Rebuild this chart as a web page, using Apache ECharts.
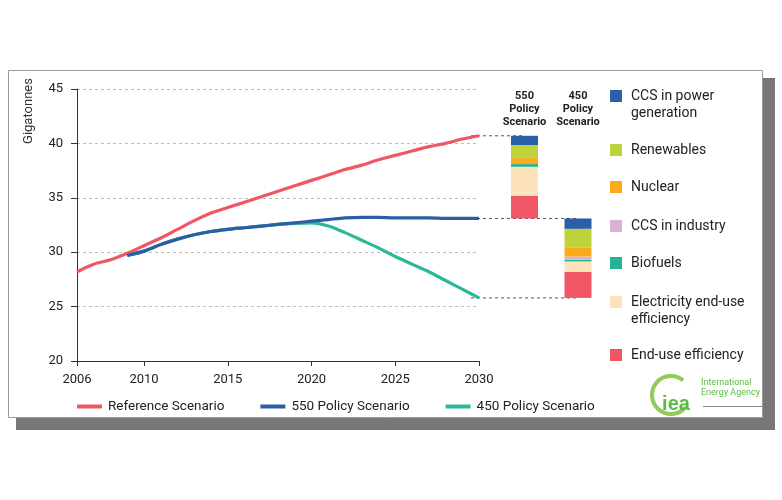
<!DOCTYPE html>
<html>
<head>
<meta charset="utf-8">
<script src="https://cdn.jsdelivr.net/npm/echarts@6/dist/echarts.min.js"></script>
<style>html,body{margin:0;padding:0;background:#fff}#c{width:782px;height:500px}</style>
</head>
<body>
<div id="c"></div>
<script>
// ---------- data ----------
const years = [2006,2007,2008,2009,2010,2011,2012,2013,2014,2015,2016,2017,2018,2019,2020,2021,2022,2023,2024,2025,2026,2027,2028,2029,2030];
const xTickYears = [2006,2010,2015,2020,2025,2030];
const referenceScenario = [28.2,28.9,29.3,29.9,30.6,31.3,32.1,32.9,33.6,34.1,34.6,35.1,35.6,36.1,36.6,37.1,37.6,38.0,38.5,38.9,39.3,39.7,40.0,40.4,40.7];
const policy550 = [null,null,null,29.7,30.1,30.7,31.2,31.6,31.9,32.1,32.25,32.4,32.55,32.7,32.85,33.0,33.15,33.2,33.2,33.15,33.15,33.15,33.1,33.1,33.1];
const policy450 = [null,null,null,29.7,30.1,30.7,31.2,31.6,31.9,32.1,32.25,32.4,32.55,32.65,32.7,32.4,31.8,31.1,30.4,29.6,28.9,28.2,27.4,26.6,25.8];
const lineNames = ['Reference Scenario','550 Policy Scenario','450 Policy Scenario'];
const scenarioLabels = ['550\nPolicy\nScenario','450\nPolicy\nScenario'];
// stacked abatement, bottom -> top
const components = ['End-use efficiency','Electricity end-use efficiency','Biofuels','CCS in industry','Nuclear','Renewables','CCS in power generation'];
const componentLabels = ['End-use efficiency','Electricity end-use\nefficiency','Biofuels','CCS in industry','Nuclear','Renewables','CCS in power\ngeneration'];
const abatement550 = [2.1,2.65,0.25,0,0.55,1.2,0.85];
const abatement450 = [2.4,0.95,0.17,0.28,0.8,1.75,0.95];
const yMin = 20, yMax = 45, yStep = 5;

// ---------- styles ----------
const FONT = '"Liberation Sans Narrow","Roboto","Noto Sans",sans-serif';
const lineColors = ['#ee5864','#2b5ea5','#2ab899'];
const componentColors = ['#ef5766','#fde3bb','#26b594','#d8b3d5','#faaa1b','#bcd43a','#2b5fa8'];
const legendCenters = [355,302,263,226,187,150,96]; // pixel layout of right legend (same order as components)

const chart = echarts.init(document.getElementById('c'), null, {renderer:'canvas'});

const last = a => a[a.length-1];
const endRef = last(referenceScenario), end550 = last(policy550), end450 = last(policy450);
// side panel category axis: gap slot, 550 bar, 450 bar, gap slot
const sideCats = [''].concat(scenarioLabels).concat(['']);

const series = [];
// dashed connectors from 2030 end points to the bars (grid 2)
[[endRef,endRef,null,null],[end550,end550,end550,null],[end450,end450,end450,null]].forEach(function(d, i){
  series.push({
    name: 'conn'+i, type:'line', xAxisIndex:1, yAxisIndex:1, z:1, silent:true,
    symbol:'none', data:d,
    lineStyle:{color:'#555', width:1, type:[3,3]}
  });
});
// line series (grid 1)
[referenceScenario, policy450, policy550].forEach(function(d, k){
  const idx = [0,2,1][k];
  series.push({
    name: lineNames[idx], type:'line', xAxisIndex:0, yAxisIndex:0,
    data: d, symbol:'none', smooth:0.3, z: 5+k,
    lineStyle:{color: lineColors[idx], width:3.2}, itemStyle:{color: lineColors[idx]}
  });
});
// bars (grid 2)
series.push({
  name:'base', type:'bar', xAxisIndex:1, yAxisIndex:1, stack:'a', barWidth:27, silent:true,
  itemStyle:{color:'rgba(0,0,0,0)'}, data:[null,end550,end450,null], z:3
});
components.forEach(function(c, i){
  series.push({
    name:c, type:'bar', xAxisIndex:1, yAxisIndex:1, stack:'a', barWidth:27, z:3,
    itemStyle:{color: componentColors[i]},
    data:[null, abatement550[i], abatement450[i], null]
  });
});

const legends = [{
  data: lineNames, left:77, top:398, orient:'horizontal', itemGap:36, padding:0,
  icon:'rect', itemWidth:25, itemHeight:4, selectedMode:false,
  textStyle:{fontFamily:FONT, fontSize:13.5, color:'#222', padding:[0,0,0,1], lineHeight:17}
}];
components.forEach(function(c, i){
  const two = componentLabels[i].indexOf('\n') >= 0;
  legends.push({
    data:[c], left:610, top: legendCenters[i] - (two ? 25.5 : 8.5), orient:'vertical', padding:0,
    icon:'rect', itemWidth:12, itemHeight:12, selectedMode:false,
    // two-line labels: a blank leading line keeps the first text line level with the swatch
    formatter: function(){ return two ? ' \n' + componentLabels[i] : componentLabels[i]; },
    textStyle:{fontFamily:FONT, fontSize:14, color:'#222', lineHeight:17, padding:[0,0,0,4]}
  });
});

chart.setOption({
  animation:false,
  backgroundColor:'#fff',
  graphic:[
    {type:'rect', z:-20, shape:{x:16,y:78,width:759,height:352}, style:{fill:'#777'}},
    {type:'rect', z:-19, shape:{x:8.5,y:70.5,width:754,height:347}, style:{fill:'#fff', stroke:'#9a9a9a', lineWidth:1}},
    {type:'text', z:10, x:29, y:111, rotation:Math.PI/2, style:{text:'Gigatonnes', font:'13px '+FONT, fill:'#333', align:'center', verticalAlign:'middle'}},
    {type:'arc', z:10, shape:{cx:671, cy:395, r:19, startAngle:-Math.PI*0.28, endAngle:Math.PI*0.22, clockwise:false}, style:{stroke:'#8fcc5a', lineWidth:4, fill:null}},
    {type:'text', z:10, x:676, y:404, style:{text:'iea', font:'bold 20px "Liberation Sans",sans-serif', fill:'#5cb848', align:'center', verticalAlign:'middle'}},
    {type:'text', z:10, x:701, y:388, style:{text:'International\nEnergy Agency', font:'9px '+FONT, fill:'#5fbb45', lineHeight:10, verticalAlign:'middle'}},
    {type:'line', z:10, shape:{x1:703,y1:406.5,x2:762,y2:406.5}, style:{stroke:'#888', lineWidth:1}}
  ],
  grid:[
    {left:77, right:303, top:89, bottom:139},
    {left:471, width:160.5, top:89, bottom:139}
  ],
  xAxis:[
    {type:'category', gridIndex:0, data:years.map(String), boundaryGap:false,
     axisLine:{lineStyle:{color:'#333', width:1}},
     axisTick:{length:5, lineStyle:{color:'#333'}, interval:function(i,v){return xTickYears.indexOf(Number(v))>=0;}},
     axisLabel:{margin:12, fontFamily:FONT, fontSize:13, color:'#222', interval:function(i,v){return xTickYears.indexOf(Number(v))>=0;}},
     splitLine:{show:false}},
    {type:'category', gridIndex:1, data:sideCats, boundaryGap:false, position:'top',
     axisLine:{show:false}, axisTick:{show:false}, splitLine:{show:false},
     axisLabel:{inside:true, interval:0, margin:1, fontFamily:FONT, fontSize:11, fontWeight:'bold', color:'#222', lineHeight:13}}
  ],
  yAxis:[
    {type:'value', gridIndex:0, min:yMin, max:yMax, interval:yStep,
     axisLine:{show:true, lineStyle:{color:'#333', width:1}},
     axisTick:{show:true, length:6, lineStyle:{color:'#333'}},
     axisLabel:{margin:14, fontFamily:FONT, fontSize:13, color:'#222'},
     splitLine:{lineStyle:{color:'#bbb', type:[3,3]}}},
    {type:'value', gridIndex:1, min:yMin, max:yMax, interval:yStep, show:false, splitLine:{show:false}}
  ],
  legend: legends,
  series: series
});
</script>
</body>
</html>
